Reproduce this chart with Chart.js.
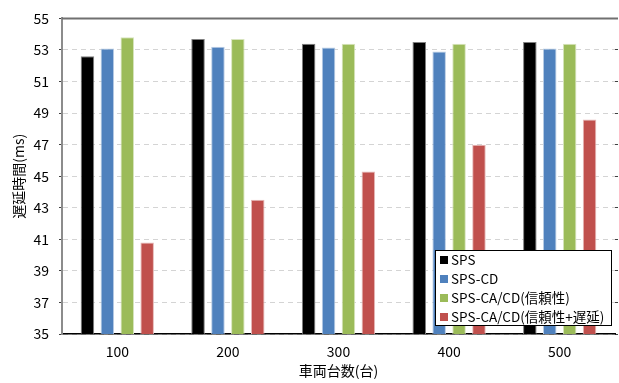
<!DOCTYPE html>
<html>
<head>
<meta charset="utf-8">
<script src="https://cdn.jsdelivr.net/npm/chart.js@4.4.1/dist/chart.umd.min.js"></script>
<style>
  html, body { margin: 0; padding: 0; background: #fff; }
  #wrap { width: 619px; height: 383px; }
</style>
</head>
<body>
<div id="wrap"><canvas id="chart" width="619" height="383"></canvas></div>
<script>
const categories = ["100", "200", "300", "400", "500"];
const seriesNames = ["SPS", "SPS-CD", "SPS-CA/CD(信頼性)", "SPS-CA/CD(信頼性+遅延)"];
const sps = [52.6, 53.7, 53.4, 53.5, 53.5];
const spsCd = [53.1, 53.2, 53.15, 52.9, 53.1];
const spsCaCdRel = [53.8, 53.7, 53.4, 53.4, 53.4];
const spsCaCdRelDelay = [40.8, 43.5, 45.3, 47.0, 48.6];
const yTicks = [35, 37, 39, 41, 43, 45, 47, 49, 51, 53, 55];

const colors = ["#000000", "#4f81bd", "#9bbb59", "#c0504d"];
const edges = ["#7f7f7f", "#b8cce4", "#d7e4bd", "#e6b9b8"];
const FONT = "'Noto Sans CJK JP', 'Noto Sans', sans-serif";

// legend drawn inside the plot area, like the original
const insideLegend = {
  id: "insideLegend",
  afterDraw(chart) {
    const ctx = chart.ctx;
    const x = 435, y = 250, w = 176, h = 75;
    ctx.save();
    ctx.fillStyle = "#fff";
    ctx.fillRect(x, y, w, h);
    ctx.strokeStyle = "#000";
    ctx.lineWidth = 1;
    ctx.strokeRect(x + 0.5, y + 0.5, w, h);
    ctx.font = "13.5px " + FONT;
    ctx.textBaseline = "middle";
    chart.data.datasets.forEach((ds, i) => {
      const cy = y + 10 + i * 19;
      ctx.fillStyle = ds.backgroundColor;
      ctx.fillRect(x + 5, cy - 4, 8, 8);
      ctx.fillStyle = "#000";
      ctx.fillText(ds.label, x + 16, cy);
    });
    // top frame line
    const a = chart.chartArea;
    ctx.strokeStyle = "#707070";
    ctx.lineWidth = 2;
    ctx.beginPath();
    ctx.moveTo(a.left, a.top);
    ctx.lineTo(a.right + 3, a.top);
    ctx.stroke();
    ctx.restore();
  }
};

const data = [sps, spsCd, spsCaCdRel, spsCaCdRelDelay];

new Chart(document.getElementById("chart"), {
  type: "bar",
  data: {
    labels: categories,
    datasets: data.map((d, i) => ({
      label: seriesNames[i],
      data: d,
      backgroundColor: colors[i],
      borderColor: edges[i],
      borderWidth: 1,
      barPercentage: 0.68,
      categoryPercentage: 0.72
    }))
  },
  options: {
    responsive: false,
    animation: false,
    layout: { padding: { top: 16, right: 0, bottom: 4, left: 10 } },
    plugins: {
      legend: { display: false },
      tooltip: { enabled: false }
    },
    scales: {
      x: {
        grid: { display: false },
        border: { color: "#000", width: 1.5 },
        ticks: { color: "#000", font: { family: FONT, size: 14 }, padding: 1 },
        title: {
          display: true,
          text: "車両台数(台)",
          color: "#000",
          font: { family: FONT, size: 14 },
          padding: { top: 0, bottom: 0 }
        },
        afterFit: (s) => { s.height = 45; }
      },
      y: {
        min: 35,
        max: 55,
        afterBuildTicks: (s) => { s.ticks = yTicks.map((v) => ({ value: v })); },
        grid: {
          color: (c) => (c.tick && c.tick.value === 55 ? "rgba(0,0,0,0)" : "#d4d4d4"),
          tickColor: "#404040",
          tickLength: 3,
          tickBorderDash: []
        },
        border: { color: "#8c8c8c", width: 2, dash: [5, 4] },
        ticks: { color: "#000", font: { family: FONT, size: 14 }, padding: 10 },
        title: {
          display: true,
          text: "遅延時間(ms)",
          color: "#000",
          font: { family: FONT, size: 14 },
          padding: { top: 0, bottom: 0 }
        },
        afterFit: (s) => { s.width = 52; }
      },
      y2: {
        position: "right",
        min: 35,
        max: 55,
        afterBuildTicks: (s) => { s.ticks = yTicks.map((v) => ({ value: v })); },
        grid: { drawOnChartArea: false, tickColor: "#404040", tickLength: 3 },
        border: { display: false },
        ticks: { display: false },
        afterFit: (s) => { s.width = 4; }
      }
    }
  },
  plugins: [insideLegend]
});
</script>
</body>
</html>
